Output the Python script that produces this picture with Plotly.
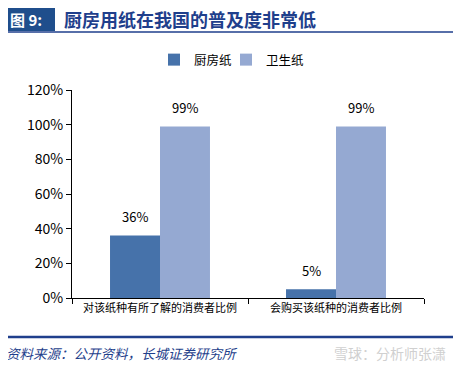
import plotly.graph_objects as go

categories = ["对该纸种有所了解的消费者比例", "会购买该纸种的消费者比例"]
kitchen_paper = [36, 5]
toilet_paper = [99, 99]
series_names = ["厨房纸", "卫生纸"]
y_ticks = [0, 20, 40, 60, 80, 100, 120]
y_tick_labels = [f"{v}%" for v in y_ticks]

FONT = "Noto Sans CJK SC"
OFF = 8  # page body margin offset
W, H = 461 - OFF, 371 - OFF
# plot area in reference page pixels
L_PX, R_PX, T_PX, B_PX = 72, 424, 90, 298
l, r, t, b = L_PX - OFF, (W + OFF) - R_PX, T_PX - OFF, (H + OFF) - B_PX
pw, ph = W - l - r, H - t - b
BAR_W_PX = 50


def px(x):
    return (x - OFF - l) / pw


def py(y):
    return (H - b - (y - OFF)) / ph


fig = go.Figure()
fig.add_trace(go.Bar(
    x=categories, y=kitchen_paper, name=series_names[0],
    marker=dict(color="#4672AA", line=dict(width=0)), legend="legend",
))
fig.add_trace(go.Bar(
    x=categories, y=toilet_paper, name=series_names[1],
    marker=dict(color="#95A9D2", line=dict(width=0)), legend="legend2",
))

for series, shift in ((kitchen_paper, -BAR_W_PX / 2), (toilet_paper, BAR_W_PX / 2)):
    for cat, v in zip(categories, series):
        fig.add_annotation(x=cat, y=v, xref="x", yref="y", text=f"{v}%",
                           xshift=shift, yshift=19, showarrow=False,
                           xanchor="center", yanchor="middle",
                           font=dict(size=13, color="#000000", family=FONT))

leg_common = dict(orientation="h", xref="paper", yref="paper",
                  yanchor="top", xanchor="left", font=dict(size=12.5, family=FONT),
                  bgcolor="rgba(0,0,0,0)", itemwidth=30)

fig.update_layout(
    width=W, height=H,
    margin=dict(l=l, r=r, t=t, b=b, pad=0, autoexpand=False),
    paper_bgcolor="white", plot_bgcolor="white",
    barmode="group", bargap=0.432, bargroupgap=0,
    font=dict(family=FONT, size=12, color="#000000"),
    showlegend=True,
    legend=dict(x=px(154), y=py(45), **leg_common),
    legend2=dict(x=px(226), y=py(45), **leg_common),
    xaxis=dict(showline=True, linecolor="#000000", linewidth=1.2,
               ticks="outside", ticklen=5, tickcolor="#000000",
               tickson="boundaries", tickangle=0, automargin=False,
               tickfont=dict(size=11, family=FONT),
               showgrid=False, zeroline=False),
    yaxis=dict(range=[0, 120], tickvals=y_ticks, ticktext=y_tick_labels,
               showline=True, linecolor="#000000", linewidth=1.2,
               ticks="outside", ticklen=5, tickcolor="#000000", automargin=False,
               tickfont=dict(size=14, family=FONT),
               showgrid=False, zeroline=False),
)

fig.add_shape(type="line", xref="paper", yref="paper", x0=px(5), x1=px(455), y0=py(32), y1=py(32),
              line=dict(color="#1F3F8C", width=1.5))
fig.add_shape(type="rect", xref="paper", yref="paper", x0=px(5), x1=px(55), y0=py(31), y1=py(6),
              fillcolor="#1F4E8C", line=dict(width=0))
fig.add_shape(type="line", xref="paper", yref="paper", x0=px(3), x1=px(456), y0=py(337), y1=py(337),
              line=dict(color="#1F3F8C", width=2.5))

fig.add_annotation(text="图 9:", xref="paper", yref="paper", x=px(8), y=py(19),
                   xanchor="left", yanchor="middle", showarrow=False,
                   font=dict(size=15, color="white", family=FONT, weight="bold"))
fig.add_annotation(text="厨房用纸在我国的普及度非常低", xref="paper", yref="paper", x=px(62), y=py(19),
                   xanchor="left", yanchor="middle", showarrow=False,
                   font=dict(size=18, color="#1F3F8C", family=FONT, weight="bold"))
fig.add_annotation(text="资料来源：公开资料，长城证券研究所", xref="paper", yref="paper", x=px(4), y=py(353),
                   xanchor="left", yanchor="middle", showarrow=False,
                   font=dict(size=13.5, color="#1F3F8C", family=FONT, style="italic"))
fig.add_annotation(text="雪球：分析师张潇", xref="paper", yref="paper", x=px(448), y=py(353),
                   xanchor="right", yanchor="middle", showarrow=False,
                   font=dict(size=14, color="#D0D0D0", family=FONT))

fig.write_html("out.html")
